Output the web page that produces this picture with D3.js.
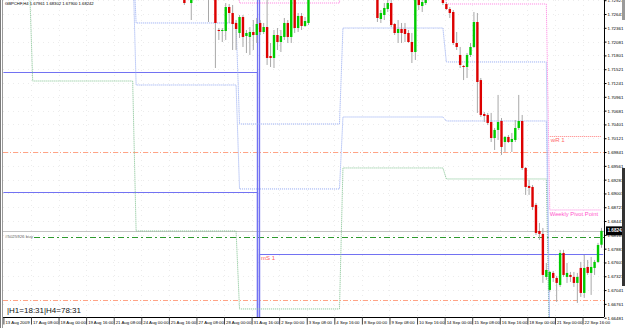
<!DOCTYPE html>
<html>
<head>
<meta charset="utf-8">
<script src="https://cdn.jsdelivr.net/npm/d3@7"></script>
<style>
  html, body { margin: 0; padding: 0; background: #fff; }
  svg { display: block; font-family: "Liberation Sans", Arial, sans-serif; }
</style>
</head>
<body>
<svg id="chart" width="625" height="328"></svg>
<script>
// ---- data ----
const SYMBOL = "GBPCHF,H4";
const lastQuote = [1.67961, 1.68302, 1.67900, 1.68242];   // O H L C of the last bar
const BAR_COUNT = 174;

// H4 bars that reach into the price window: [bar, open, high, low, close]
const bars = [
    [52, 1.73026, 1.73229, 1.72824, 1.72864],
    [54, 1.72864, 1.73128, 1.72519, 1.73026],
    [59, 1.73331, 1.73432, 1.72479, 1.73026],
    [61, 1.73331, 1.73432, 1.71546, 1.72459],
    [62, 1.72317, 1.72357, 1.72114, 1.72296],
    [63, 1.72296, 1.72357, 1.72073, 1.72317],
    [64, 1.72296, 1.72864, 1.72114, 1.72783],
    [65, 1.72783, 1.72844, 1.72459, 1.72661],
    [66, 1.72661, 1.72824, 1.71911, 1.72438],
    [67, 1.72459, 1.72519, 1.71911, 1.72337],
    [68, 1.72256, 1.72621, 1.72154, 1.72580],
    [69, 1.72580, 1.72621, 1.71972, 1.72175],
    [70, 1.72195, 1.72317, 1.71850, 1.72256],
    [71, 1.72175, 1.72377, 1.71810, 1.72276],
    [72, 1.72276, 1.72519, 1.71911, 1.72215],
    [73, 1.72215, 1.72560, 1.72053, 1.72438],
    [74, 1.72459, 1.72519, 1.72215, 1.72276],
    [75, 1.72276, 1.72459, 1.72235, 1.72377],
    [76, 1.72377, 1.72986, 1.71607, 1.71749],
    [77, 1.71789, 1.72053, 1.71566, 1.71749],
    [78, 1.71749, 1.72317, 1.71546, 1.72215],
    [79, 1.72215, 1.72357, 1.71911, 1.72073],
    [80, 1.72073, 1.72317, 1.71870, 1.72195],
    [81, 1.72175, 1.72560, 1.72114, 1.72459],
    [82, 1.72459, 1.72519, 1.72053, 1.72175],
    [83, 1.72175, 1.73128, 1.72053, 1.73026],
    [84, 1.73026, 1.73087, 1.72256, 1.72357],
    [85, 1.72357, 1.72661, 1.72276, 1.72601],
    [86, 1.72601, 1.72661, 1.72317, 1.72398],
    [87, 1.72398, 1.72580, 1.72377, 1.72499],
    [88, 1.72459, 1.73128, 1.72418, 1.73026],
    [108, 1.73128, 1.73229, 1.72479, 1.72560],
    [109, 1.72540, 1.72722, 1.72459, 1.72661],
    [110, 1.72621, 1.72864, 1.72519, 1.72763],
    [111, 1.72742, 1.72966, 1.72682, 1.72864],
    [112, 1.72864, 1.73026, 1.72377, 1.72418],
    [113, 1.72438, 1.72459, 1.72215, 1.72256],
    [114, 1.72256, 1.72519, 1.72053, 1.72337],
    [115, 1.72337, 1.72459, 1.72053, 1.72256],
    [116, 1.72337, 1.72459, 1.72073, 1.72235],
    [117, 1.72256, 1.72317, 1.72053, 1.72073],
    [118, 1.72073, 1.72256, 1.71647, 1.71870],
    [119, 1.71870, 1.73026, 1.71708, 1.72986],
    [120, 1.72986, 1.73087, 1.72722, 1.72824],
    [121, 1.72803, 1.72966, 1.72682, 1.72884],
    [122, 1.72864, 1.73128, 1.72824, 1.73026],
    [127, 1.73128, 1.73229, 1.72824, 1.72864],
    [128, 1.72844, 1.72884, 1.72722, 1.72742],
    [129, 1.72742, 1.72783, 1.72560, 1.72661],
    [130, 1.72682, 1.72722, 1.72012, 1.72053],
    [131, 1.72053, 1.72276, 1.71911, 1.71972],
    [132, 1.71810, 1.71972, 1.71546, 1.71607],
    [133, 1.71587, 1.71607, 1.71301, 1.71566],
    [134, 1.71566, 1.71850, 1.71343, 1.71810],
    [135, 1.71810, 1.72053, 1.71769, 1.71972],
    [136, 1.71972, 1.72682, 1.71951, 1.72479],
    [137, 1.72479, 1.72661, 1.70634, 1.71262],
    [138, 1.71301, 1.71343, 1.70552, 1.70593],
    [139, 1.70613, 1.70654, 1.70451, 1.70573],
    [140, 1.70593, 1.70634, 1.70390, 1.70431],
    [141, 1.70451, 1.70634, 1.70045, 1.70126],
    [142, 1.70126, 1.70329, 1.69883, 1.70289],
    [143, 1.70289, 1.70999, 1.70086, 1.70451],
    [144, 1.70471, 1.70532, 1.69782, 1.69944],
    [145, 1.70045, 1.70167, 1.69842, 1.70147],
    [146, 1.70147, 1.70187, 1.70025, 1.70045],
    [147, 1.70045, 1.70228, 1.69842, 1.70106],
    [148, 1.70086, 1.70491, 1.70045, 1.70329],
    [149, 1.70329, 1.70999, 1.70289, 1.70471],
    [150, 1.70471, 1.70593, 1.69477, 1.69518],
    [151, 1.69518, 1.69538, 1.68971, 1.69133],
    [152, 1.69153, 1.69275, 1.68971, 1.69112],
    [153, 1.69133, 1.69173, 1.68666, 1.68727],
    [154, 1.68768, 1.68808, 1.68159, 1.68200],
    [155, 1.68240, 1.68403, 1.68058, 1.68180],
    [156, 1.68180, 1.68301, 1.67186, 1.67348],
    [157, 1.67308, 1.67591, 1.67247, 1.67449],
    [158, 1.67044, 1.67429, 1.67003, 1.67409],
    [159, 1.67389, 1.67429, 1.67206, 1.67287],
    [160, 1.67287, 1.67328, 1.66801, 1.67186],
    [161, 1.67145, 1.67855, 1.67105, 1.67794],
    [162, 1.67794, 1.67855, 1.67308, 1.67348],
    [163, 1.67308, 1.67591, 1.67186, 1.67389],
    [164, 1.67348, 1.67409, 1.67206, 1.67308],
    [165, 1.67308, 1.67409, 1.67105, 1.67186],
    [166, 1.67186, 1.67389, 1.66780, 1.67308],
    [167, 1.67490, 1.67612, 1.66902, 1.66983],
    [168, 1.66983, 1.67754, 1.66882, 1.67490],
    [169, 1.67510, 1.67652, 1.67348, 1.67389],
    [170, 1.67389, 1.67713, 1.66943, 1.67510],
    [171, 1.67490, 1.67652, 1.67348, 1.67612],
    [172, 1.67612, 1.67997, 1.67591, 1.67956],
    [173, 1.67961, 1.68302, 1.67900, 1.68242],
];

const priceTicks = [
    1.72921, 1.72641, 1.72361, 1.72081, 1.71801, 1.71521, 1.71241, 1.70961,
    1.70681, 1.70401, 1.70121, 1.69841, 1.69561, 1.69281, 1.69001, 1.68721,
    1.68441, 1.68161, 1.67881, 1.67601, 1.67321, 1.67041, 1.66761, 1.66481,
];

const timeTickBars = [0, 8, 16, 24, 32, 40, 48, 56, 64, 72, 80, 88, 96, 104, 112, 120, 128, 136, 144, 152, 160, 168];
const timeTickLabels = [
    "13 Aug 2009", "17 Aug 08:00", "18 Aug 00:00", "19 Aug 16:00", "21 Aug 08:00",
    "24 Aug 00:00", "25 Aug 16:00", "27 Aug 08:00", "28 Aug 00:00", "31 Aug 16:00",
    "2 Sep 00:00", "3 Sep 08:00", "4 Sep 16:00", "8 Sep 00:00", "9 Sep 08:00",
    "10 Sep 16:00", "14 Sep 00:00", "15 Sep 08:00", "16 Sep 16:00", "18 Sep 00:00",
    "21 Sep 00:00", "22 Sep 16:00",
];

// weekly pivots, one value per week; weeks begin at these bars
const weekStarts = [0, 8, 38, 68, 98, 128, 158];
const weeklyPivot = [1.7450, 1.7450, 1.7450, 1.72864, 1.7420, 1.72844, 1.68666];
const weeklyS1 = [1.7400, 1.7400, 1.72459, 1.70410, 1.72357, 1.71668, 1.6600];
const weeklyS2 = [1.7380, 1.7380, 1.71201, 1.69092, 1.70552, 1.70471, 1.6580];
const weeklyS3 = [1.7340, 1.71282, 1.68240, 1.66658, 1.69518, 1.69295, 1.6550];
const currentWeekR1 = 1.70167;

// monthly pivots: August levels, then September levels
const monthStartBar = 74;
const monthlyAug = [1.7420, 1.71465, 1.69021];
const monthlySep = [1.7500, 1.7450, 1.67774];
const monthlyS1 = 1.67774;

// order lines on the chart
const buyOrder = { label: "#5025926 buy", price: 1.68119 };
const stopLevels = [1.69842, 1.66841];

const counters = "|H1=18:31|H4=78:31";

// ---- colours ----
const BULL = "#00cc00";
const BEAR = "#dd0000";
const WICK = "#a8a8a8";
const MONTH_BLUE = "#7272f2";
const WEEK_BLUE = "#8fa6f2";
const WEEK_GREEN = "#7cc08c";
const WEEK_PINK = "#ff7fe0";
const WEEK_RED = "#ff7f7f";
const STOP_ORANGE = "#ffa385";
const ORDER_GREEN = "#2f9a2f";

// ---- layout ----
const PLOT = { left: 3, right: 604, top: 0, bottom: 317 };

const xScale = d3.scaleLinear().domain([0, BAR_COUNT]).range([3.4, 603.2]);
const yScale = d3.scaleLinear().domain([1.66495, 1.72925]).range([PLOT.bottom, PLOT.top]);
const center = i => xScale(i + 0.5);
const crisp = v => Math.round(v) + 0.5;

const svg = d3.select("#chart");

svg.append("defs").append("clipPath").attr("id", "plot-clip")
    .append("rect")
    .attr("x", PLOT.left).attr("y", PLOT.top)
    .attr("width", PLOT.right - PLOT.left).attr("height", PLOT.bottom - PLOT.top);

svg.append("rect").attr("width", 625).attr("height", 328).attr("fill", "#fff");

const plot = svg.append("g").attr("clip-path", "url(#plot-clip)");

/**
 * Faint dotted grid, MT4 style.
 */
function drawGrid() {
    const grid = plot.append("g").attr("stroke", "#ececec").attr("stroke-dasharray", "1,4");
    grid.selectAll("line.h").data(priceTicks).join("line")
        .attr("x1", PLOT.left).attr("x2", PLOT.right)
        .attr("y1", d => crisp(yScale(d))).attr("y2", d => crisp(yScale(d)));
    grid.selectAll("line.v").data(timeTickBars.slice(1)).join("line")
        .attr("y1", PLOT.top).attr("y2", PLOT.bottom)
        .attr("x1", d => crisp(xScale(d))).attr("x2", d => crisp(xScale(d)));
}

/**
 * Step line for one weekly level: flat across each week, short slant at the change.
 */
function weekPoints(values) {
    let pts = [];
    weekStarts.forEach((s, k) => {
        let e = k + 1 < weekStarts.length ? weekStarts[k + 1] : BAR_COUNT;
        pts.push([k === 0 ? xScale(0) : center(s), yScale(values[k])]);
        pts.push([center(e - 1), yScale(values[k])]);
    });
    return pts;
}

function drawWeekly() {
    const line = d3.line();
    const g = plot.append("g").attr("fill", "none").attr("stroke-width", 1).attr("stroke-dasharray", "1,1");
    [[weeklyS3, WEEK_GREEN], [weeklyS2, WEEK_BLUE], [weeklyS1, WEEK_BLUE], [weeklyPivot, WEEK_PINK]]
        .forEach(([values, colour]) => {
            g.append("path").attr("d", line(weekPoints(values))).attr("stroke", colour);
        });

    let s = weekStarts[weekStarts.length - 1];
    g.append("line")
        .attr("x1", center(s)).attr("x2", center(BAR_COUNT - 1))
        .attr("y1", crisp(yScale(currentWeekR1))).attr("y2", crisp(yScale(currentWeekR1)))
        .attr("stroke", WEEK_RED);

    svg.append("text").text("wR 1")
        .attr("x", center(s) + 1).attr("y", yScale(currentWeekR1) + 6.5)
        .attr("font-size", 6.1).attr("fill", "#ff6b6b");
    svg.append("text").text("Weekly Pivot Point")
        .attr("x", center(s)).attr("y", yScale(weeklyPivot[weeklyPivot.length - 1]) + 6.5)
        .attr("font-size", 5.8).attr("fill", "#ff55cc");
}

/**
 * Monthly levels. At the month change each line falls to the floor and
 * climbs back to the new value, which leaves the double vertical bar.
 */
function drawMonthly() {
    const g = plot.append("g").attr("fill", "none").attr("stroke", MONTH_BLUE).attr("stroke-width", 1.2);
    let xb = xScale(monthStartBar);
    monthlyAug.forEach(v => {
        g.append("path").attr("d", d3.line()([
            [xScale(0), crisp(yScale(v))], [xb - 1, crisp(yScale(v))], [xb - 1, PLOT.bottom + 5],
        ]));
    });
    monthlySep.forEach(v => {
        g.append("path").attr("d", d3.line()([
            [xb + 1, PLOT.bottom + 5], [xb + 1, crisp(yScale(v))], [xScale(BAR_COUNT), crisp(yScale(v))],
        ]));
    });
    svg.append("text").text("mS 1")
        .attr("x", xb + 2.5).attr("y", yScale(monthlyS1) + 6.5)
        .attr("font-size", 6).attr("fill", "#ff6060");
}

function drawOrderLines() {
    const g = plot.append("g").attr("fill", "none");
    g.selectAll("line.stop").data(stopLevels).join("line")
        .attr("x1", PLOT.left).attr("x2", PLOT.right)
        .attr("y1", d => crisp(yScale(d))).attr("y2", d => crisp(yScale(d)))
        .attr("stroke", STOP_ORANGE).attr("stroke-dasharray", "5,2,1,2");

    // bid line
    g.append("line")
        .attr("x1", PLOT.left).attr("x2", PLOT.right)
        .attr("y1", crisp(yScale(lastQuote[3]))).attr("y2", crisp(yScale(lastQuote[3])))
        .attr("stroke", "#c4c4c4");

    g.append("line")
        .attr("x1", 34).attr("x2", PLOT.right)
        .attr("y1", crisp(yScale(buyOrder.price))).attr("y2", crisp(yScale(buyOrder.price)))
        .attr("stroke", ORDER_GREEN).attr("stroke-width", 1.2).attr("stroke-dasharray", "6,3,2,3");

    svg.append("text").text(buyOrder.label)
        .attr("x", 5).attr("y", yScale(buyOrder.price) + 1)
        .attr("font-size", 4.4).attr("fill", "#666");
}

function drawCandles() {
    const bodyW = 2.4;
    const g = plot.append("g");
    const bar = g.selectAll("g.bar").data(bars).join("g").attr("class", "bar");
    bar.append("line")
        .attr("x1", d => center(d[0])).attr("x2", d => center(d[0]))
        .attr("y1", d => yScale(d[2])).attr("y2", d => yScale(d[3]))
        .attr("stroke", WICK).attr("stroke-width", 1);
    bar.append("rect")
        .attr("x", d => center(d[0]) - bodyW / 2)
        .attr("y", d => yScale(Math.max(d[1], d[4])))
        .attr("width", bodyW)
        .attr("height", d => Math.max(1, Math.abs(yScale(d[1]) - yScale(d[4]))))
        .attr("fill", d => d[4] >= d[1] ? BULL : BEAR);
}

function drawAxes() {
    const yAxis = d3.axisRight(yScale)
        .tickValues(priceTicks)
        .tickSize(2)
        .tickPadding(1)
        .tickFormat(d3.format(".5f"));
    const ya = svg.append("g").attr("transform", `translate(${PLOT.right + 0.5},0)`).call(yAxis);
    ya.select(".domain").attr("d", `M0,0V${PLOT.bottom}`).attr("stroke", "#000");
    ya.selectAll("text").attr("font-size", 4.4).attr("font-family", "Liberation Sans, Arial, sans-serif");

    const xAxis = d3.axisBottom(xScale)
        .tickValues(timeTickBars)
        .tickSize(7)
        .tickFormat((d, i) => timeTickLabels[i]);
    const xa = svg.append("g").attr("transform", `translate(0,${PLOT.bottom + 0.5})`).call(xAxis);
    xa.select(".domain").attr("d", `M${PLOT.left},0H${PLOT.right}`).attr("stroke", "#000");
    xa.selectAll(".tick line").attr("stroke", "#444");
    xa.selectAll("text")
        .attr("font-size", 4.3).attr("font-family", "Liberation Sans, Arial, sans-serif")
        .attr("text-anchor", "start").attr("x", 1.5).attr("y", 3.8);

    // current price box
    let yc = yScale(lastQuote[3]);
    svg.append("rect").attr("x", 606).attr("y", yc - 4.5).attr("width", 19).attr("height", 9).attr("fill", "#000");
    svg.append("text").text(d3.format(".5f")(lastQuote[3]))
        .attr("x", 607.5).attr("y", yc + 1.6)
        .attr("font-size", 4.6).attr("font-weight", "bold").attr("fill", "#fff");
}

function drawFrame() {
    svg.append("rect").attr("x", 0).attr("y", 0).attr("width", 1).attr("height", 328).attr("fill", "#7a7a7a");
    svg.append("rect").attr("x", 2).attr("y", 0).attr("width", 1).attr("height", 328).attr("fill", "#9a9a9a");
    svg.append("rect").attr("x", 622).attr("y", 0).attr("width", 3).attr("height", 20).attr("fill", "#9a9a9a");
    svg.append("rect").attr("x", 622).attr("y", 168).attr("width", 3).attr("height", 118).attr("fill", "#333");

    svg.append("text")
        .text(`${SYMBOL} ${lastQuote.map(d3.format(".5f")).join(" ")}`)
        .attr("x", 5).attr("y", 4.6)
        .attr("font-size", 4.2).attr("fill", "#000");

    svg.append("text").text(counters)
        .attr("x", 7).attr("y", 312.5)
        .attr("font-size", 8).attr("fill", "#111");
}

drawGrid();
drawOrderLines();
drawMonthly();
drawWeekly();
drawCandles();
drawAxes();
drawFrame();
</script>
</body>
</html>
